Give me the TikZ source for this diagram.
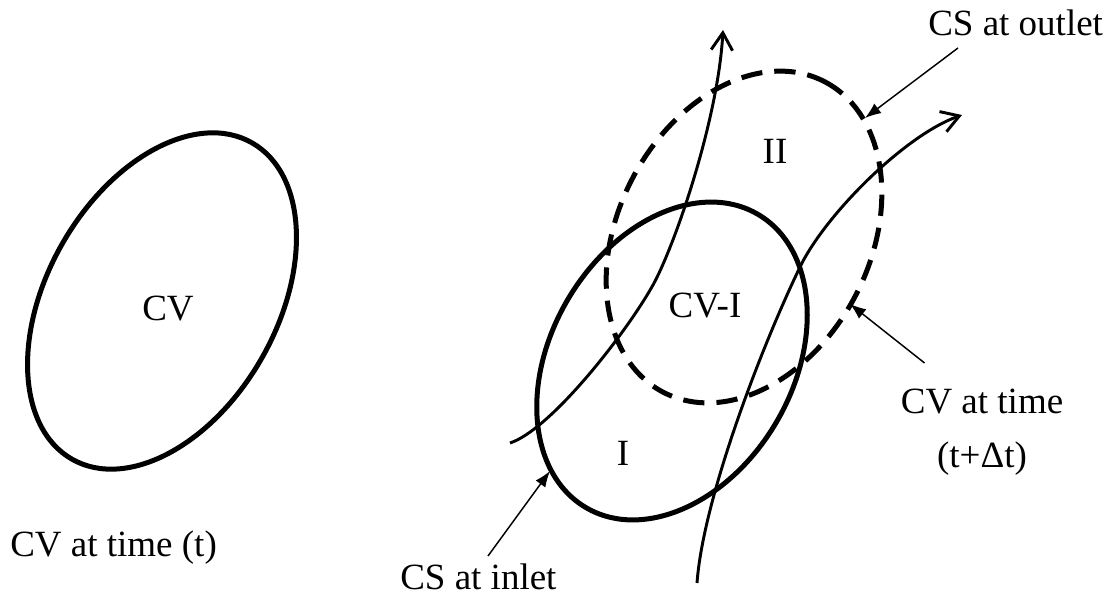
\documentclass[tikz,border=0pt]{standalone}
\usepackage{fontspec}
\setmainfont{Liberation Serif}
\usetikzlibrary{arrows.meta,calc}

\tikzset{
  cvline/.style={line width=3.75pt},
  csdash/.style={line width=3.75pt, dash pattern=on 16pt off 9pt},
  stream/.style={line width=2.2pt, -{Straight Barb[length=13pt,width=16pt,line width=2.2pt]}},
  leader/.style={line width=1.1pt, -{Latex[length=12pt,width=9pt]}},
  lbl/.style={inner sep=0pt, font=\fontsize{27.75}{33}\selectfont},
}

\begin{document}
\begin{tikzpicture}[x=0.75pt,y=0.75pt,yscale=-1.0,xscale=1.0]
\useasboundingbox (0,0) rectangle (1111,595);
% control volume at time t
\draw [cvline, rotate around={-60.4:(162,301)}] (162,301) ellipse (182 and 115);
\node [lbl, anchor=base] (cv) at (168,321) {CV};
\node [lbl, anchor=base west] (cvt) at (10,556) {CV at time (t)};
% control volume at t and t+dt
\draw [cvline, rotate around={-59.6:(672,361)}] (672,361) ellipse (170 and 121);
\draw [csdash, rotate around={-62.6:(744,237)}] (744,237) ellipse (175 and 126);
% streamlines
\draw [stream] (510,443) .. controls (550,430) and (625,335) .. (653,285) .. controls (675,245) and (718,120) .. (723,30);
\draw [stream] (697,583) .. controls (703,500) and (760,350) .. (800,267) .. controls (825,215) and (905,135) .. (962,115);
% region labels
\node [lbl, anchor=base] (cvI) at (705,318) {CV-I};
\node [lbl, anchor=base] (one) at (623,465) {I};
\node [lbl, anchor=base] (two) at (775,164) {II};
% surfaces
\node [lbl, anchor=base west] (inlet) at (400,589) {CS at inlet};
\node [lbl, anchor=base west] (outlet) at (928,36) {CS at outlet};
\node [lbl, anchor=base] (cvdt) at (982,413) {CV at time};
\node [lbl, anchor=base] (dt) at (982,467) {(t+Δt)};
\coordinate (inTip) at (550,471);
\coordinate (outTip) at (865,118);
\coordinate (dtTip) at (850,304);
\draw [leader] ($(inlet.base west)+(88,-33)$) -- (inTip);
\draw [leader] ($(outlet.base west)+(30,12)$) -- (outTip);
\draw [leader] ($(cvdt.base west)+(24,-50)$) -- (dtTip);
\end{tikzpicture}
\end{document}
